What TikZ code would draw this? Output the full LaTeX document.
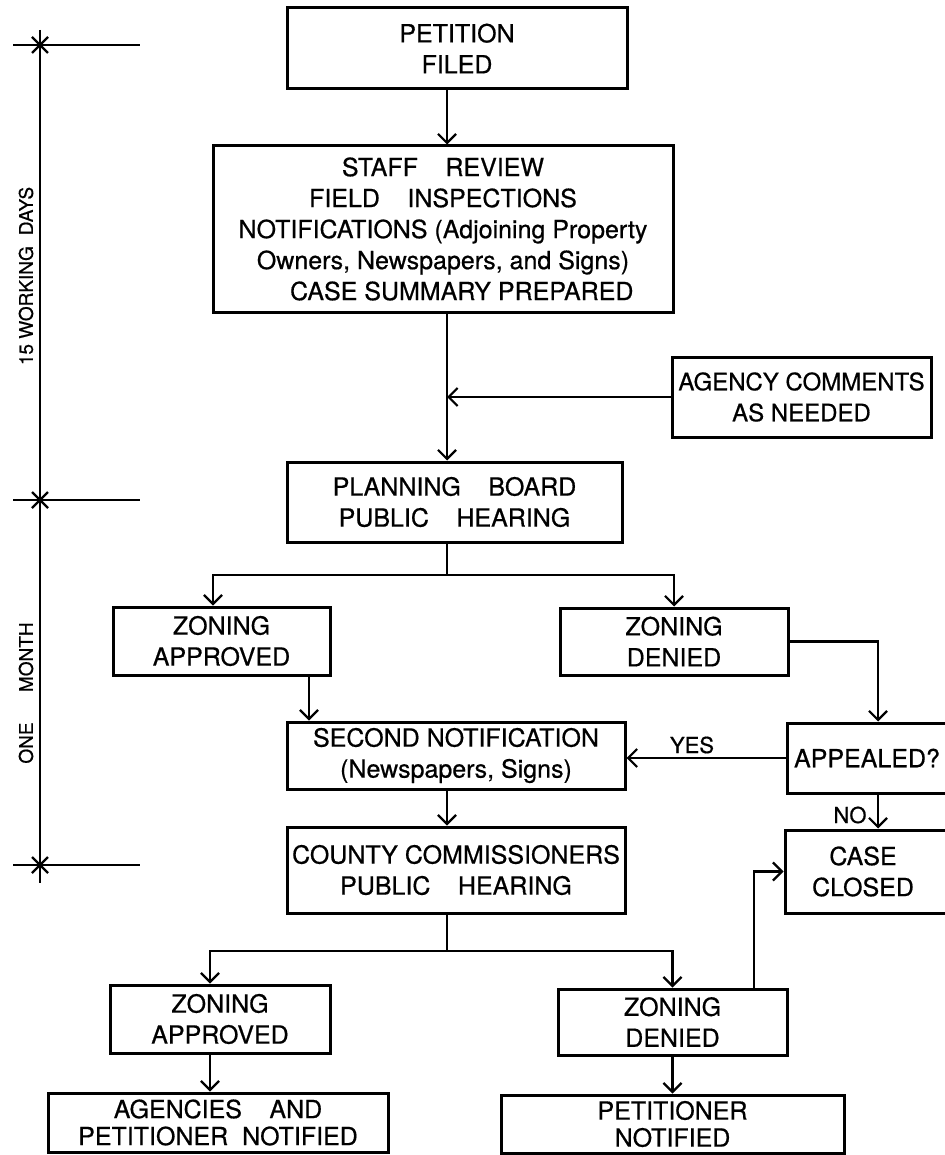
\documentclass[tikz,border=0pt]{standalone}
\usepackage{fontspec}
\setmainfont{TeX Gyre Heros}[FakeBold=0.6]
\newfontfamily\lettering{TeX Gyre Heros}[FakeBold=0.6]
\usetikzlibrary{arrows.meta}
\begin{document}
\begin{tikzpicture}[x=0.5pt, y=-0.5pt, line width=1.1pt,
    >={Straight Barb[length=4.5pt,width=9pt]},
    box/.style={draw, line width=1.5pt, inner sep=0pt, align=center,
        font=\lettering\fontsize{12.5}{15.5}\selectfont},
    lbl/.style={inner sep=0pt, font=\lettering\fontsize{11}{13}\selectfont},
    span/.style={inner sep=0pt, rotate=90, font=\lettering\fontsize{9.5}{12}\selectfont}]
            \useasboundingbox (0,0) rectangle (945,1155);
            \def \g {\hspace{1.1em}}
            % time scale on the left
            \draw (40,30) -- (40,883);
            \foreach \y in {45,500,865} {
                \draw (13,\y) -- (140,\y);
                \draw (32,\y-8) -- (48,\y+8);
                \draw (32,\y+8) -- (48,\y-8);
            }
            \node[span] (days) at (26,276) {15 WORKING\hspace{0.3em} DAYS};
            \node[span] (month) at (26,693) {ONE\hspace{1.6em}MONTH};
            % boxes
            \node[box, minimum width=170pt, minimum height=40.5pt] (petition) at (457,48.5) {PETITION\\FILED};
            \node[box, minimum width=230pt, minimum height=83pt] (staff) at (443,229)
                {STAFF\g REVIEW\\FIELD\g INSPECTIONS\\NOTIFICATIONS (Adjoining Property\\Owners, Newspapers, and Signs)\\\hspace*{1.5em}CASE\ SUMMARY PREPARED};
            \node[box, minimum width=129.5pt, minimum height=40pt, font=\lettering\fontsize{12}{15.5}\selectfont] (agency) at (801.5,397) {AGENCY\ COMMENTS\\AS\ NEEDED};
            \node[box, minimum width=167.5pt, minimum height=40pt] (planning) at (454.5,502) {PLANNING\g BOARD\\PUBLIC\g HEARING};
            \node[box, minimum width=108.5pt, minimum height=34pt] (appr1) at (221.5,641) {ZONING\\APPROVED};
            \node[box, minimum width=114pt, minimum height=33.5pt] (deny1) at (674,641.5) {ZONING\\DENIED};
            \node[box, minimum width=169pt, minimum height=33.5pt] (second) at (456,755.5) {SECOND\ NOTIFICATION\\(Newspapers, Signs)};
            \node[box, minimum width=102pt, minimum height=35pt] (appeal) at (889,758) {APPEALED?\hspace*{22pt}};
            \node[box, minimum width=169pt, minimum height=43pt] (county) at (456,870) {COUNTY\ COMMISSIONERS\\PUBLIC\g HEARING};
            \node[box, minimum width=104pt, minimum height=41.5pt] (closed) at (889,871.5) {CASE\hspace*{26pt}\\CLOSED\hspace*{26pt}};
            \node[box, minimum width=110pt, minimum height=34pt] (appr2) at (220,1019) {ZONING\\APPROVED};
            \node[box, minimum width=114.5pt, minimum height=33pt] (deny2) at (672.5,1022) {ZONING\\DENIED};
            \node[box, minimum width=170pt, minimum height=29.5pt, font=\lettering\fontsize{12.5}{13.5}\selectfont] (agencies) at (218,1122.5) {AGENCIES\g AND\\PETITIONER\ \ NOTIFIED};
            \node[box, minimum width=171.5pt, minimum height=29pt, font=\lettering\fontsize{12.5}{13.5}\selectfont] (petnot) at (672.5,1124) {PETITIONER\\NOTIFIED};
            % columns and branch points
            \coordinate (mid) at (447,0);
            \coordinate (c1) at (309,0);
            \coordinate (c2) at (210,0);
            \coordinate (c3) at (754,0);
            \coordinate (c4) at (213,0);
            \coordinate (c5) at (878,0);
            \coordinate (s1) at (447,575);
            \coordinate (s2) at (447,951);
            % connectors
            \draw[->] (petition.south -| mid) -- (staff.north -| mid);
            \draw[->] (staff.south -| mid) -- (planning.north -| mid);
            \draw[->] (agency.west) -- (agency.west -| mid);
            \draw (planning.south -| mid) -- (s1);
            \draw[->] (s1) -| (appr1.north -| c4);
            \draw[->] (s1) -| (deny1.north);
            \draw[->] (appr1.south -| c1) -- (second.north -| c1);
            \draw[->] (deny1.east) -| (appeal.north -| c5);
            \draw[->] (appeal.west) -- (appeal.west -| second.east);
            \node[lbl] (yes) at (692,745) {YES};
            \draw[->] (appeal.south -| c5) -- (closed.north -| c5);
            \node[lbl] (no) at (850,815) {NO};
            \draw[->] (second.south -| mid) -- (county.north -| mid);
            \draw (county.south -| mid) -- (s2);
            \draw[->] (s2) -| (appr2.north -| c2);
            \draw[->] (s2) -| (deny2.north);
            \draw[->] (appr2.south -| c2) -- (agencies.north -| c2);
            \draw[->] (deny2.south) -- (petnot.north);
            \draw[->] (deny2.north -| c3) |- (closed.west);
        \end{tikzpicture}
\end{document}
